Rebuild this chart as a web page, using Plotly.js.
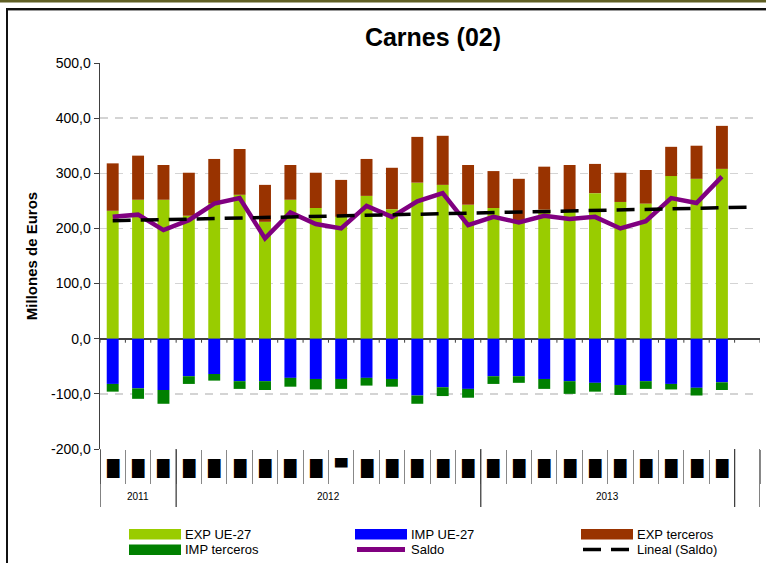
<!DOCTYPE html>
<html><head><meta charset="utf-8">
<script src="https://cdn.plot.ly/plotly-3.0.1.min.js"></script>
<style>html,body{margin:0;padding:0;background:#fff}#chart{width:766px;height:563px}</style>
</head><body><div id="chart"></div>
<script>
// ---- data ----
const categories = ['oct-11','nov-11','dic-11',
  'ene-12','feb-12','mar-12','abr-12','may-12','jun-12','jul-12','ago-12','sep-12','oct-12','nov-12','dic-12',
  'ene-13','feb-13','mar-13','abr-13','may-13','jun-13','jul-13','ago-13','sep-13','oct-13',' '];
const years = ['2011','2011','2011',
  '2012','2012','2012','2012','2012','2012','2012','2012','2012','2012','2012','2012',
  '2013','2013','2013','2013','2013','2013','2013','2013','2013','2013',' '];
const monthMarks = ['█','█','█','█','█','█','█','█','█','▀','█','█','█',
  '█','█','█','█','█','█','█','█','█','█','█','█',''];
const expUE = [232,252,252,223,246,261,212,252,237,221,259,235,283,279,243,237,215,234,231,264,248,245,295,290,308,null];
const impUE = [-82,-90,-93,-68,-64,-77,-77,-71,-73,-73,-71,-73,-103,-88,-91,-68,-68,-73,-77,-80,-84,-77,-82,-89,-79,null];
const expTerceros = [86,80,63,78,80,83,67,63,64,67,67,75,83,89,72,67,75,78,84,53,53,61,53,60,78,null];
const impTerceros = [-14,-19,-25,-14,-12,-14,-16,-16,-19,-18,-14,-14,-15,-16,-16,-14,-12,-18,-23,-16,-18,-14,-10,-14,-14,null];
const saldo = [221,225,197,215,245,255,182,229,208,200,241,221,249,264,206,221,211,223,217,221,200,213,255,246,294,null];
const trendCats = ['oct-11',' '];
const trendVals = [214,238.5];
const yTickVals = [-200,-100,0,100,200,300,400,500];
const yTickText = ['-200,0','-100,0','0,0','100,0','200,0','300,0','400,0','500,0'];

// ---- styling ----
const C = {expUE:'#99CC00', impUE:'#0000FF', expT:'#993300', impT:'#008000', saldo:'#800080', trend:'#000000'};
const FONT = 'Liberation Sans, Arial, sans-serif';
const W = 766, H = 563, ML = 100, MR = 6, MT = 63, MB = 114;
const PW = W - ML - MR, PH = H - MT - MB;
const fx = px => (px - ML) / PW;
const fy = py => (H - MB - py) / PH;

const traces = [
  {type:'bar', name:'EXP UE-27', x:categories, y:expUE, marker:{color:C.expUE}},
  {type:'bar', name:'IMP UE-27', x:categories, y:impUE, marker:{color:C.impUE}},
  {type:'bar', name:'EXP terceros', x:categories, y:expTerceros, marker:{color:C.expT}},
  {type:'bar', name:'IMP terceros', x:categories, y:impTerceros, marker:{color:C.impT}},
  {type:'scatter', mode:'lines', name:'Saldo', x:categories, y:saldo, line:{color:C.saldo, width:4.5}},
  {type:'scatter', mode:'lines', name:'Lineal (Saldo)', x:trendCats, y:trendVals, line:{color:C.trend, width:3.5, dash:'18px,10px'}}
];

const shapes = [];
const annotations = [];
// outer frame
shapes.push({type:'rect', xref:'paper', yref:'paper', x0:fx(0), x1:fx(W), y0:fy(0), y1:fy(2.5), fillcolor:'#5f5f25', line:{width:0}, layer:'below'});
shapes.push({type:'line', xref:'paper', yref:'paper', x0:fx(7), x1:fx(7), y0:fy(8), y1:fy(H), line:{color:'#111', width:2}});
shapes.push({type:'line', xref:'paper', yref:'paper', x0:fx(6), x1:fx(W), y0:fy(9), y1:fy(9), line:{color:'#111', width:2}});
shapes.push({type:'line', xref:'paper', yref:'paper', x0:fx(8), x1:fx(W), y0:fy(10.5), y1:fy(10.5), line:{color:'#999', width:1}});
// small ticks under the zero line
for (let k = 0; k <= categories.length; k++) {
  shapes.push({type:'line', xref:'x', yref:'y', ysizemode:'pixel', yanchor:0, x0:k-0.5, x1:k-0.5, y0:0, y1:-4, line:{color:'#404040', width:1}});
}
// year group dividers
for (let k = 0; k <= categories.length; k++) {
  if (k === 0 || k === categories.length || years[k] !== years[k-1]) {
    shapes.push({type:'line', xref:'x', yref:'paper', ysizemode:'pixel', yanchor:0, x0:k-0.5, x1:k-0.5, y0:0, y1:-58, line:{color:'#404040', width:1.3}});
  }
}
// month label marks
categories.forEach((c, i) => {
  if (!monthMarks[i]) return;
  annotations.push({x:c, xref:'x', yref:'paper', y:0, yanchor:'top', yshift:-7, showarrow:false, text:monthMarks[i], font:{family:'DejaVu Sans', size:16, color:'#000'}});
});
// year labels
let start = 0;
for (let k = 1; k <= years.length; k++) {
  if (k === years.length || years[k] !== years[start]) {
    if (years[start].trim()) {
      annotations.push({x:(start + k - 1) / 2, xref:'x', yref:'paper', y:0, yanchor:'middle', yshift:-47, showarrow:false, text:years[start], font:{family:FONT, size:10, color:'#000'}});
    }
    start = k;
  }
}
// custom legend
const legCols = [129, 355, 581], legRows = [534, 549.5], swW = 52;
traces.forEach((t, i) => {
  const cx = legCols[i % 3], cy = legRows[Math.floor(i / 3)];
  if (t.type === 'bar') {
    shapes.push({type:'rect', xref:'paper', yref:'paper', x0:fx(cx), x1:fx(cx + swW), y0:fy(cy - 5), y1:fy(cy + 5.5), fillcolor:t.marker.color, line:{width:0}});
  } else {
    shapes.push({type:'line', xref:'paper', yref:'paper', x0:fx(cx + 2), x1:fx(cx + swW - 2), y0:fy(cy), y1:fy(cy), line:{color:t.line.color, width:t.line.width + (t.line.dash ? 0 : 0.5), dash:t.line.dash || 'solid'}});
  }
  annotations.push({xref:'paper', yref:'paper', x:fx(cx + swW + 2), y:fy(cy), xanchor:'left', yanchor:'middle', showarrow:false, text:t.name, font:{family:FONT, size:13, color:'#000'}});
});

const layout = {
  width:W, height:H,
  margin:{l:ML, r:MR, t:MT, b:MB, pad:0},
  paper_bgcolor:'#fff', plot_bgcolor:'#fff',
  font:{family:FONT, color:'#000'},
  separators:',.',
  title:{text:'Carnes (02)', font:{family:FONT, size:25, weight:'bold', color:'#000'}, x:0.5 + 3 / PW, xref:'paper', xanchor:'center', y:1 - 37 / H, yref:'container', yanchor:'middle'},
  barmode:'relative', bargap:0.53,
  showlegend:false,
  xaxis:{type:'category', categoryarray:categories, range:[-0.5, categories.length - 0.5], showgrid:false, zeroline:false, showline:false,
    ticks:'outside', tickson:'boundaries', ticklen:34, tickcolor:'#888', tickwidth:1, showticklabels:false, fixedrange:true},
  yaxis:{range:[-200, 500], tickvals:yTickVals, ticktext:yTickText, ticks:'outside', ticklen:5, tickcolor:'#404040', tickwidth:1,
    showline:true, linecolor:'#404040', linewidth:1.5,
    showgrid:true, gridcolor:'#d4d4d4', gridwidth:1.5, griddash:'8px,7px',
    zeroline:true, zerolinecolor:'#404040', zerolinewidth:2,
    tickfont:{family:FONT, size:14, color:'#000'},
    title:{text:'Millones de Euros', font:{family:FONT, size:15, weight:'bold', color:'#000'}, standoff:9}, fixedrange:true},
  shapes:shapes, annotations:annotations
};
Plotly.newPlot('chart', traces, layout, {displayModeBar:false, staticPlot:true});
</script></body></html>
